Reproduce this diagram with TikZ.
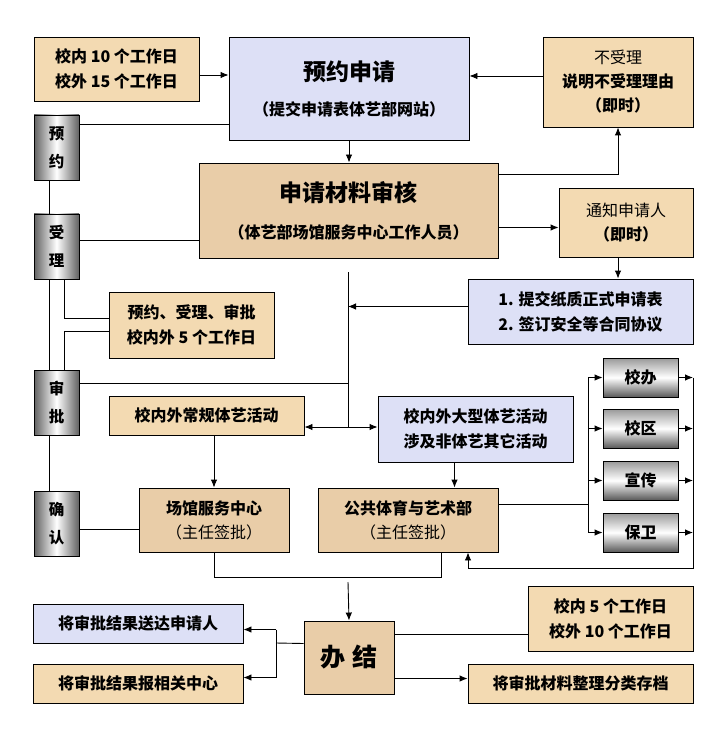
\documentclass[tikz,border=0pt]{standalone}
\usepackage{fontspec}
\setmainfont{Noto Sans CJK SC}
\usetikzlibrary{arrows.meta}
\definecolor{tan}{HTML}{F3DAB2}
\definecolor{wood}{HTML}{E9CDA8}
\definecolor{lavender}{HTML}{DDE0F6}
\tikzset{
  box/.style={draw, line width=0.9pt, align=center, inner sep=0pt,
    font=\fontsize{16}{25}\selectfont\bfseries},
  tanbox/.style={box, fill=tan},
  woodbox/.style={box, fill=wood},
  bluebox/.style={box, fill=lavender},
  sidebox/.style={box, minimum width=45pt, minimum height=65pt,
    font=\fontsize{15.5}{28}\selectfont\bfseries,
    left color=black!62, right color=black!62, middle color=white},
  unitbox/.style={box, minimum width=75pt, minimum height=39pt,
    top color=black!40, bottom color=black!65, middle color=white},
  big/.style={font=\fontsize{25}{30}\selectfont\bfseries},
  arr/.style={-{Latex[length=8pt,width=6.5pt]}}
}
\begin{document}
\begin{tikzpicture}[x=1pt, y=-1pt, line width=0.9pt]
  \useasboundingbox (0,0) rectangle (727,735);
  % top row
  \node[tanbox, minimum width=165pt, minimum height=64pt] (lim1) at (116.5,69) {校内 10 个工作日\\校外 15 个工作日};
  \node[bluebox, minimum width=240pt, minimum height=103pt] (apply) at (349,88.5)
    {{\fontsize{23}{30}\selectfont 预约申请}\\[10pt]（提交申请表体艺部网站）};
  \node[tanbox, minimum width=150pt, minimum height=90pt] (reject) at (618,82)
    {{\mdseries 不受理}\\[-1pt]说明不受理理由\\[-1pt]（即时）};
  \node[woodbox, minimum width=299pt, minimum height=95pt] (review) at (348.5,210.5)
    {{\fontsize{23}{30}\selectfont 申请材料审核}\\[12pt]（体艺部场馆服务中心工作人员）};
  \node[tanbox, minimum width=134pt, minimum height=69pt] (notify) at (626,222.5)
    {{\mdseries 通知申请人}\\[-1pt]（即时）};
  \node[bluebox, minimum width=225pt, minimum height=65pt] (paper) at (580.5,311.5)
    {1. 提交纸质正式申请表\\2. 签订安全等合同协议};
  % left bar
  \node[sidebox] (yuyue) at (56.5,147.5) {预\\约};
  \node[sidebox] (shouli) at (56.5,246.5) {受\\理};
  \node[sidebox] (shenpi) at (56.5,402.5) {审\\批};
  \node[sidebox] (queren) at (56.5,523.5) {确\\认};
  % middle
  \node[tanbox, minimum width=165pt, minimum height=66pt] (lim2) at (191.5,325) {预约、受理、审批\\校内外 5 个工作日};
  \node[tanbox, minimum width=195pt, minimum height=39pt] (regular) at (206.5,415.5) {校内外常规体艺活动};
  \node[bluebox, minimum width=195pt, minimum height=66pt] (large) at (475.5,429) {校内外大型体艺活动\\涉及非体艺其它活动};
  \node[woodbox, minimum width=150pt, minimum height=64pt] (venue) at (214,520) {场馆服务中心\\[-1pt]{\mdseries （主任签批）}};
  \node[woodbox, minimum width=180pt, minimum height=64pt] (dept) at (408,520) {公共体育与艺术部\\[-1pt]{\mdseries （主任签批）}};
  \node[unitbox] (xiaoban) at (640.5,377.5) {校办};
  \node[unitbox] (xiaoqu) at (640.5,428.5) {校区};
  \node[unitbox] (xuanchuan) at (640.5,480.5) {宣传};
  \node[unitbox] (baowei) at (640.5,532.5) {保卫};
  % bottom
  \node[woodbox, big, minimum width=90pt, minimum height=73pt] (done) at (349,657.5) {办\hspace{7pt}结};
  \node[bluebox, minimum width=210pt, minimum height=39pt] (send) at (138,623.5) {将审批结果送达申请人};
  \node[tanbox, minimum width=210pt, minimum height=39pt] (report) at (138,683.5) {将审批结果报相关中心};
  \node[tanbox, minimum width=165pt, minimum height=65pt] (lim3) at (610.5,618.5) {校内 5 个工作日\\校外 10 个工作日};
  \node[tanbox, minimum width=225pt, minimum height=39pt] (archive) at (580.5,683.5) {将审批材料整理分类存档};
  \coordinate (trunk) at (348,272);
  \coordinate (fork) at (348,427);
  \coordinate (split) at (588,504);
  \coordinate (merge) at (693,568);
  \coordinate (close) at (276,643);
  % connectors
  \draw[arr] ([yshift=-6pt]lim1.east) -- ([yshift=-6pt]lim1.east -| apply.west);
  \draw[arr] ([yshift=6pt]reject.west) -- ([yshift=6pt]reject.west -| apply.east);
  \draw[arr] (apply.south) -- (apply.south |- review.north);
  \draw[arr] ([yshift=-12pt]review.north east) -| (reject.south);
  \draw[arr] ([yshift=-17pt]review.east) -- ([yshift=-17pt]review.east -| notify.west);
  \draw[arr] ([xshift=-8pt]notify.south) -- ([xshift=-8pt]notify.south |- paper.north);
  \draw (trunk) -- (fork);
  \draw[arr] ([yshift=5pt]paper.west) -- ([yshift=5pt]paper.west -| trunk);
  \draw ([yshift=19pt]shenpi.east) -- ([yshift=19pt]shenpi.east -| trunk);
  \draw[arr] (fork) -- (fork -| regular.east);
  \draw[arr] (fork) -- (fork -| large.west);
  \draw[arr] (venue.north |- regular.south) -- (venue.north);
  \draw[arr] ([xshift=-21pt]large.south) -- ([xshift=-21pt]large.south |- dept.north);
  \draw (venue.south) -- ++(0,25) -| ([xshift=33pt]dept.south);
  \draw ([yshift=16pt]dept.east) -- (split);
  \draw (split |- xiaoban.west) -- (split |- baowei.west);
  \foreach \u in {xiaoban,xiaoqu,xuanchuan,baowei} {
    \draw[arr] (split |- \u.west) -- (\u.west);
    \draw[arr] (\u.east) -- (\u.east -| merge);
  }
  \draw[arr] (merge |- xiaoban.east) -- (merge) -| ([xshift=60pt]dept.south);
  \draw[arr] (348,582) -- (done.north);
  % left bar
  \draw ([yshift=23pt]yuyue.east) -- ([yshift=23pt]yuyue.east -| apply.west);
  \draw ([yshift=6pt]shouli.east) -- ([yshift=6pt]shouli.east -| review.west);
  \draw ([xshift=-7.5pt]yuyue.south) -- ([xshift=-7.5pt]shouli.north);
  \draw ([xshift=-7.5pt]shouli.south) -- ([xshift=-7.5pt]shenpi.north);
  \draw ([xshift=-7.5pt]shenpi.south) -- ([xshift=-7.5pt]queren.north);
  \draw ([xshift=7.5pt]shouli.south) |- ([yshift=7pt]lim2.west);
  \draw ([xshift=7.5pt]shenpi.north) |- ([yshift=-6pt]lim2.west);
  \draw ([yshift=-6pt]queren.east) -- ([yshift=-6pt]queren.east -| venue.west);
  % finishing
  \draw ([yshift=14pt]done.west) -- (close);
  \draw ([yshift=-6pt]send.east -| close) -- ([yshift=6pt]report.east -| close);
  \draw[arr] ([yshift=-6pt]send.east -| close) -- ([yshift=-6pt]send.east);
  \draw[arr] ([yshift=6pt]report.east -| close) -- ([yshift=6pt]report.east);
  \draw ([yshift=23pt]done.east) -- ([yshift=23pt]done.east -| lim3.west);
  \draw[arr] ([yshift=-21pt]done.east) -- ([yshift=-21pt]done.east -| archive.west);
\end{tikzpicture}
\end{document}
